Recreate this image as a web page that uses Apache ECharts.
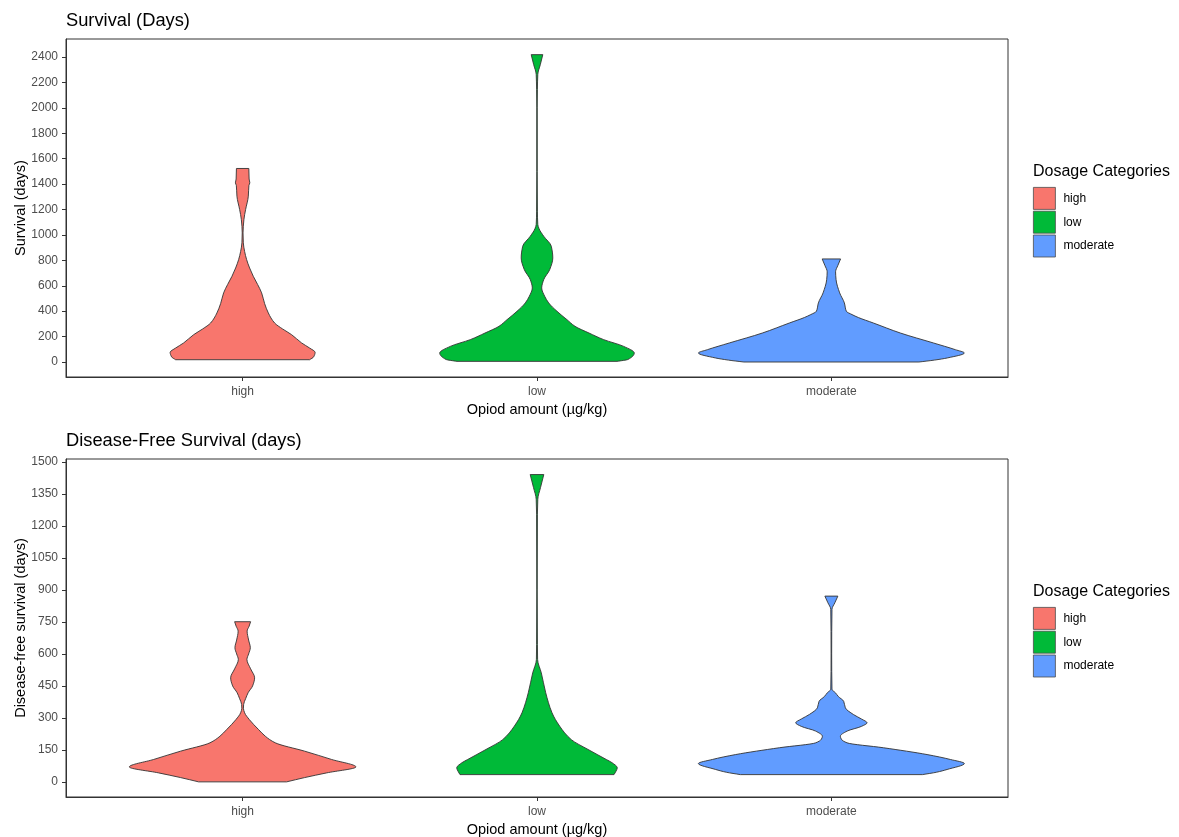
<!DOCTYPE html>
<html>
<head>
<meta charset="utf-8">
<script src="https://cdn.jsdelivr.net/npm/echarts@6/dist/echarts.min.js"></script>
<style>
  html, body { margin: 0; padding: 0; background: #fff; }
  #chart { width: 1179px; height: 837px; }
</style>
</head>
<body>
<div id="chart"></div>
<script>
// Dosage groups along the x axis
const categories = ['high', 'low', 'moderate'];
const groupColors = ['#F8766D', '#00BA38', '#619CFF'];

// Y tick labels for each panel
const survivalTicks = [0, 200, 400, 600, 800, 1000, 1200, 1400, 1600, 1800, 2000, 2200, 2400];
const dfsTicks = [0, 150, 300, 450, 600, 750, 900, 1050, 1200, 1350, 1500];

// Violin profiles: [days, density] pairs (density in relative units)
const survivalHigh = [[18,67],[40,71],[76,72.5],[110,67],[150,59],[215,49],[260,40],[307,32],[386,25.7],[460,22],[544,19],[610,15],[674,10.7],[740,7],[806,4],[870,2],[938,0.7],[1016,0.4],[1121,1.3],[1200,3],[1305,5.7],[1390,6.3],[1410,7.2],[1440,6.5],[1523,6.2]];
const survivalLow = [[5,80],[20,91],[71,97.3],[123,86.7],[176,66.7],[228,52],[281,38],[333,30],[399,20],[465,11.7],[517,7.7],[583,4.7],[648,6.7],[727,12.7],[819,15.8],[911,14.3],[990,6.7],[1050,2],[1082,0.8],[1187,0.4],[1500,0.2],[2000,0.2],[2145,0.4],[2263,0.8],[2340,3.3],[2419,5.8]];
const survivalModerate = [[0,87.5],[15,103],[32,116],[71,133],[97,124],[150,102],[228,69],[307,42],[350,27],[373,20.7],[399,15],[465,13],[544,8.3],[648,4.7],[710,4.2],[760,6.5],[811,9.2]];

const dfsHigh = [[0,44],[20,62],[42,84],[70,113.3],[105,89],[144,62],[183,32.7],[214,22.7],[245,16],[292,6.7],[324,2],[345,0.8],[363,1],[390,3],[418,5.5],[450,10],[488,12],[530,8],[574,4.3],[600,6],[629,7.7],[665,6],[707,4.5],[730,6.5],[751,8]];
const dfsLow = [[34,77],[50,79],[66,80.3],[90,75],[105,69.3],[152,51],[198,34.3],[261,22.7],[324,15],[418,8.7],[511,4.3],[574,0.6],[644,0.4],[900,0.2],[1255,0.4],[1325,0.8],[1380,3.5],[1441,6.8]];
const dfsModerate = [[34,91],[45,105],[58,115.7],[86,133],[105,119],[128,95.7],[160,52],[183,15.7],[200,10],[214,9],[238,15.7],[260,30],[277,35.7],[295,30],[316,22],[347,14],[378,12.3],[400,7],[418,4],[434,0.6],[600,0.3],[809,0.6],[840,3.5],[871,6.5]];

const survivalProfiles = [survivalHigh, survivalLow, survivalModerate];
const dfsProfiles = [dfsHigh, dfsLow, dfsModerate];

// density -> half-width in category units
const DENSITY_TO_WIDTH = 1 / 294.4;

const FONT = '"Liberation Sans", Arial, sans-serif';
const OUTLINE = '#333333';

// Monotone (Fritsch-Carlson) tangents of density with respect to days,
// so the outline stays smooth without overshooting between profile points.
function monotoneTangents(profile) {
  const n = profile.length;
  const d = [];
  for (let i = 0; i < n - 1; i++) {
    d.push((profile[i + 1][1] - profile[i][1]) / (profile[i + 1][0] - profile[i][0]));
  }
  const m = new Array(n);
  m[0] = d[0];
  m[n - 1] = d[n - 2];
  for (let i = 1; i < n - 1; i++) {
    if (d[i - 1] * d[i] <= 0) { m[i] = 0; }
    else {
      const w1 = 2 * (profile[i + 1][0] - profile[i][0]) + (profile[i][0] - profile[i - 1][0]);
      const w2 = (profile[i + 1][0] - profile[i][0]) + 2 * (profile[i][0] - profile[i - 1][0]);
      m[i] = (w1 + w2) / (w1 / d[i - 1] + w2 / d[i]);
    }
  }
  return m;
}

function violinSeries(profile, catIdx, gridIdx) {
  const color = groupColors[catIdx];
  const tangents = monotoneTangents(profile);
  return {
    type: 'custom',
    name: categories[catIdx],
    xAxisIndex: gridIdx,
    yAxisIndex: gridIdx,
    clip: true,
    itemStyle: { color: color, borderColor: OUTLINE, borderWidth: 0.9 },
    data: [[catIdx + 1, 0]],
    renderItem: function (params, api) {
      const c = api.value(0);
      const pt = (side, w, y) => {
        const p = api.coord([c + side * w * DENSITY_TO_WIDTH, y]);
        return p[0].toFixed(2) + ' ' + p[1].toFixed(2);
      };
      const n = profile.length;
      let path = 'M ' + pt(1, profile[0][1], profile[0][0]);
      // right edge, bottom to top
      for (let i = 0; i < n - 1; i++) {
        const [y0, w0] = profile[i];
        const [y1, w1] = profile[i + 1];
        const h = y1 - y0;
        path += ' C ' + pt(1, w0 + tangents[i] * h / 3, y0 + h / 3) +
                ' ' + pt(1, w1 - tangents[i + 1] * h / 3, y1 - h / 3) +
                ' ' + pt(1, w1, y1);
      }
      // flat top, then left edge, top to bottom
      path += ' L ' + pt(-1, profile[n - 1][1], profile[n - 1][0]);
      for (let i = n - 1; i > 0; i--) {
        const [y0, w0] = profile[i];
        const [y1, w1] = profile[i - 1];
        const h = y0 - y1;
        path += ' C ' + pt(-1, w0 - tangents[i] * h / 3, y0 - h / 3) +
                ' ' + pt(-1, w1 + tangents[i - 1] * h / 3, y1 + h / 3) +
                ' ' + pt(-1, w1, y1);
      }
      path += ' Z';
      return {
        type: 'path',
        shape: { pathData: path },
        style: { fill: color, stroke: OUTLINE, lineWidth: 0.9 }
      };
    }
  };
}

function xAxisFor(gridIdx) {
  return {
    type: 'value', gridIndex: gridIdx, min: 0.4, max: 3.6,
    axisLine: { show: true, onZero: false, lineStyle: { color: OUTLINE, width: 1 } },
    axisTick: { show: true, length: 4, customValues: [1, 2, 3], lineStyle: { color: OUTLINE } },
    axisLabel: {
      customValues: [1, 2, 3], margin: 9, color: '#4D4D4D', fontSize: 12, fontFamily: FONT,
      formatter: v => categories[Math.round(v) - 1]
    },
    splitLine: { show: false },
    name: 'Opiod amount (µg/kg)', nameLocation: 'middle', nameGap: 25, nameMoveOverlap: false,
    nameTextStyle: { color: '#000', fontSize: 14.5, fontFamily: FONT }
  };
}

function yAxisFor(gridIdx, min, max, ticks, name) {
  return {
    type: 'value', gridIndex: gridIdx, min: min, max: max,
    axisLine: { show: true, onZero: false, lineStyle: { color: OUTLINE, width: 1 } },
    axisTick: { show: true, length: 4, customValues: ticks, lineStyle: { color: OUTLINE } },
    axisLabel: { customValues: ticks, margin: 8, color: '#4D4D4D', fontSize: 12, fontFamily: FONT,
      formatter: v => String(v) },
    splitLine: { show: false },
    name: name, nameLocation: 'middle', nameGap: 38, nameMoveOverlap: false,
    nameTextStyle: { color: '#000', fontSize: 14.5, fontFamily: FONT }
  };
}

function legendFor(top) {
  return {
    orient: 'vertical', left: 1033, top: top, padding: 0,
    itemWidth: 22, itemHeight: 22, itemGap: 1, icon: 'rect',
    selectedMode: false,
    itemStyle: { borderColor: '#4D4D4D', borderWidth: 0.8 },
    textStyle: { color: '#000', fontSize: 12, fontFamily: FONT, padding: [0, 0, 0, 3] },
    data: categories
  };
}

const series = [];
survivalProfiles.forEach((p, i) => series.push(violinSeries(p, i, 0)));
dfsProfiles.forEach((p, i) => series.push(violinSeries(p, i, 1)));

const chart = echarts.init(document.getElementById('chart'), null, { renderer: 'canvas' });
chart.setOption({
  animation: false,
  backgroundColor: '#ffffff',
  title: [
    { text: 'Survival (Days)', left: 66, top: 12, padding: 0,
      textStyle: { fontSize: 18.3, fontWeight: 'normal', color: '#000', fontFamily: FONT } },
    { text: 'Disease-Free Survival (days)', left: 66, top: 432, padding: 0,
      textStyle: { fontSize: 18.3, fontWeight: 'normal', color: '#000', fontFamily: FONT } },
    { text: 'Dosage Categories', left: 1033, top: 164, padding: 0,
      textStyle: { fontSize: 16, fontWeight: 'normal', color: '#000', fontFamily: FONT } },
    { text: 'Dosage Categories', left: 1033, top: 584, padding: 0,
      textStyle: { fontSize: 16, fontWeight: 'normal', color: '#000', fontFamily: FONT } }
  ],
  legend: [legendFor(187), legendFor(607)],
  grid: [
    { left: 66, top: 39, width: 942, height: 338, show: true, borderColor: OUTLINE, borderWidth: 1,
      containLabel: false, outerBoundsMode: 'none' },
    { left: 66, top: 459, width: 942, height: 338, show: true, borderColor: OUTLINE, borderWidth: 1,
      containLabel: false, outerBoundsMode: 'none' }
  ],
  xAxis: [xAxisFor(0), xAxisFor(1)],
  yAxis: [
    yAxisFor(0, -118, 2542, survivalTicks, 'Survival (days)'),
    yAxisFor(1, -71, 1514, dfsTicks, 'Disease-free survival (days)')
  ],
  series: series
});
</script>
</body>
</html>
